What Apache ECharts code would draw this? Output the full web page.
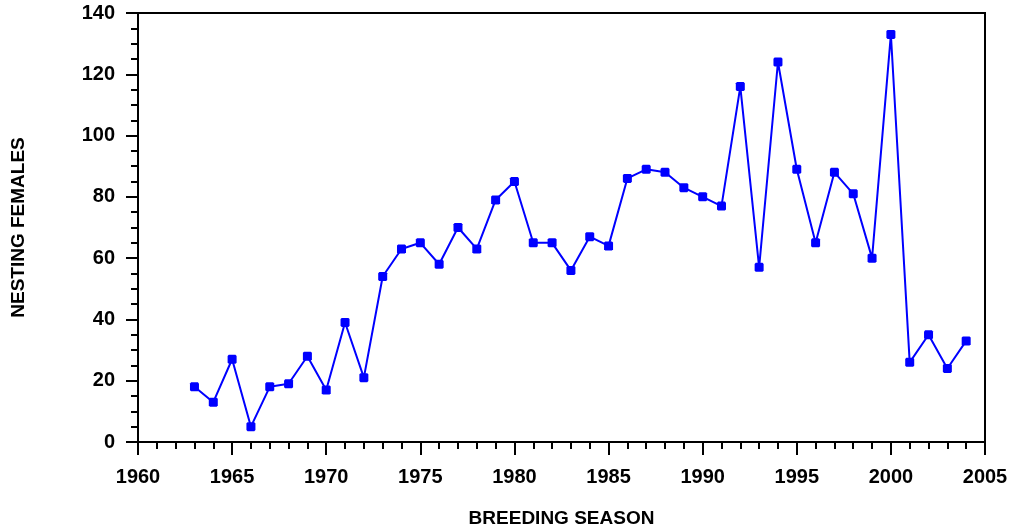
<!DOCTYPE html>
<html>
<head>
<meta charset="utf-8">
<script src="https://cdn.jsdelivr.net/npm/echarts@6/dist/echarts.min.js"></script>
<style>html,body{margin:0;padding:0;background:#fff}#c{width:1012px;height:530px}</style>
</head>
<body>
<div id="c"></div>
<script>
const years = [1963,1964,1965,1966,1967,1968,1969,1970,1971,1972,1973,1974,1975,1976,1977,1978,1979,1980,1981,1982,1983,1984,1985,1986,1987,1988,1989,1990,1991,1992,1993,1994,1995,1996,1997,1998,1999,2000,2001,2002,2003,2004];
const females = [18,13,27,5,18,19,28,17,39,21,54,63,65,58,70,63,79,85,65,65,56,67,64,86,89,88,83,80,77,116,57,124,89,65,88,81,60,133,26,35,24,33];
const xTitle = 'BREEDING SEASON';
const yTitle = 'NESTING FEMALES';

const chart = echarts.init(document.getElementById('c'), null, {renderer: 'canvas'});
const font = '"Liberation Sans", Arial, sans-serif';
chart.setOption({
  animation: false,
  backgroundColor: '#fff',
  grid: {left: 138, right: 27, top: 13, bottom: 88, outerBoundsMode: 'none', containLabel: false, show: true, borderColor: '#000', borderWidth: 2, backgroundColor: 'transparent'},
  xAxis: {
    type: 'value', min: 1960, max: 2005, interval: 5,
    name: xTitle, nameLocation: 'middle', nameGap: 67,
    nameTextStyle: {fontFamily: font, fontWeight: 'bold', fontSize: 19, color: '#000'},
    axisLine: {show: true, lineStyle: {color: '#000', width: 2}},
    axisTick: {show: true, length: 13, lineStyle: {color: '#000', width: 2}},
    minorTick: {show: true, splitNumber: 5, length: 7, lineStyle: {color: '#000', width: 2}},
    splitLine: {show: false},
    axisLabel: {margin: 25, fontFamily: font, fontWeight: 'bold', fontSize: 20, color: '#000', formatter: v => String(v)}
  },
  yAxis: {
    type: 'value', min: 0, max: 140, interval: 20,
    name: yTitle, nameLocation: 'middle', nameGap: 110, nameRotate: 90,
    nameTextStyle: {fontFamily: font, fontWeight: 'bold', fontSize: 19, color: '#000'},
    axisLine: {show: true, lineStyle: {color: '#000', width: 2}},
    axisTick: {show: true, length: 12, lineStyle: {color: '#000', width: 2}},
    minorTick: {show: true, splitNumber: 4, length: 7, lineStyle: {color: '#000', width: 2}},
    splitLine: {show: false},
    axisLabel: {margin: 23, fontFamily: font, fontWeight: 'bold', fontSize: 20, color: '#000'}
  },
  series: [{
    type: 'line',
    data: years.map((y, i) => [y, females[i]]),
    symbol: 'path://M1,0 L7,0 L8,1 L8,7 L7,8 L1,8 L0,7 L0,1 Z',
    symbolSize: 9,
    showAllSymbol: true,
    lineStyle: {color: '#0000ff', width: 2},
    itemStyle: {color: '#0000ff'}
  }]
});
</script>
</body>
</html>
